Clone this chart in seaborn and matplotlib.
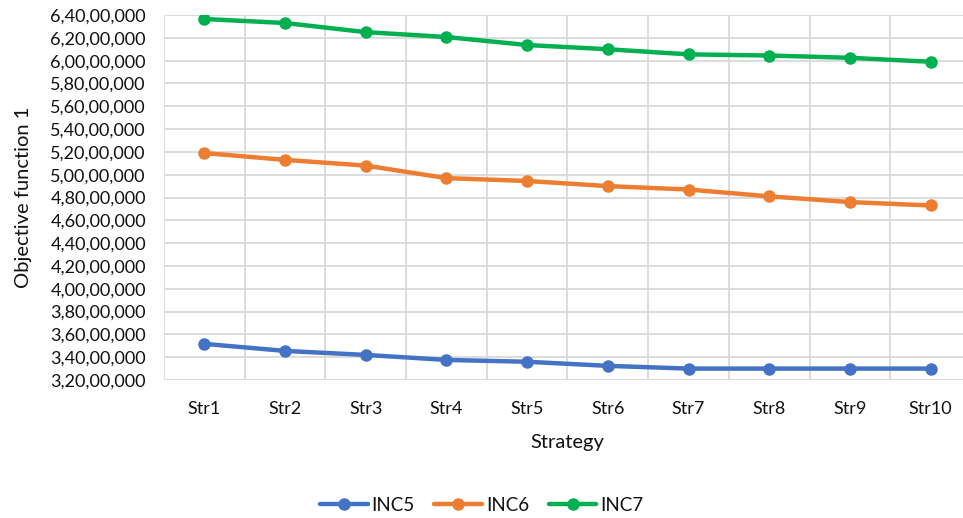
import numpy as np
import pandas as pd
import matplotlib
matplotlib.use("Agg")
import matplotlib.pyplot as plt
from matplotlib.ticker import FuncFormatter, MultipleLocator, FixedLocator
import seaborn as sns

# ── Data ─────────────────────────────────────────────────────────
strategies = ["Str1", "Str2", "Str3", "Str4", "Str5",
              "Str6", "Str7", "Str8", "Str9", "Str10"]
inc5 = [35.17e6, 34.55e6, 34.20e6, 33.76e6, 33.60e6,
        33.24e6, 33.00e6, 33.00e6, 33.00e6, 33.00e6]
inc6 = [51.90e6, 51.30e6, 50.80e6, 49.70e6, 49.45e6,
        49.00e6, 48.70e6, 48.10e6, 47.60e6, 47.30e6]
inc7 = [63.65e6, 63.30e6, 62.50e6, 62.07e6, 61.37e6,
        61.00e6, 60.55e6, 60.45e6, 60.25e6, 59.90e6]
series_names = ["INC5", "INC6", "INC7"]
colors = ["#4472C4", "#ED7D31", "#00B050"]

df = pd.DataFrame({
    "Strategy": strategies * 3,
    "Value": inc5 + inc6 + inc7,
    "Series": np.repeat(series_names, len(strategies)),
})


def indian_fmt(v, pos=None):
    """Format number with Indian digit grouping, e.g. 6,40,00,000."""
    s = str(int(round(v)))
    last3, rest = s[-3:], s[:-3]
    groups = []
    while len(rest) > 2:
        groups.insert(0, rest[-2:])
        rest = rest[:-2]
    if rest:
        groups.insert(0, rest)
    return ",".join(groups + [last3])


# ── Plot ─────────────────────────────────────────────────────────
sns.set_style("white")
plt.rcParams["font.family"] = ["Lato", "DejaVu Sans"]

fig = plt.figure(figsize=(9.63, 5.18), dpi=100)
ax = fig.add_axes([0.1703, 0.2664, 0.838, 0.7046])

sns.lineplot(data=df, x="Strategy", y="Value", hue="Series",
             palette=colors, marker="o", markersize=9,
             markeredgewidth=0, linewidth=3.2, ax=ax, legend=True)

ax.set_ylim(32e6, 64e6)
ax.set_xlim(-0.5, len(strategies) - 0.5)
ax.yaxis.set_major_locator(MultipleLocator(2e6))
ax.yaxis.set_major_formatter(FuncFormatter(indian_fmt))
ax.xaxis.set_minor_locator(FixedLocator(np.arange(-0.5, len(strategies), 1)))

ax.grid(axis="y", which="major", color="#D9D9D9", linewidth=1.3)
ax.grid(axis="x", which="minor", color="#D9D9D9", linewidth=1.3)
ax.set_axisbelow(True)
for sp in ax.spines.values():
    sp.set_visible(False)

ax.tick_params(axis="both", which="both", length=0)
ax.tick_params(axis="y", labelsize=13, pad=13, labelcolor="#111111")
ax.tick_params(axis="x", labelsize=13, pad=15, labelcolor="#111111")

ax.set_xlabel("Strategy", fontsize=14.5, labelpad=12, color="#111111")
ax.set_ylabel("Objective function 1", fontsize=14.5, labelpad=6, color="#111111")
ax.yaxis.set_label_coords(-0.163, 0.5)

handles, labels = ax.get_legend_handles_labels()
ax.get_legend().remove()
fig.legend(handles, labels, loc="center", bbox_to_anchor=(0.5, 0.025),
           ncol=3, frameon=False, fontsize=13.5, handlelength=2.55,
           handletextpad=0.2, columnspacing=1.05, labelcolor="#111111")

fig.savefig("out.png", dpi=100)
plt.close()
